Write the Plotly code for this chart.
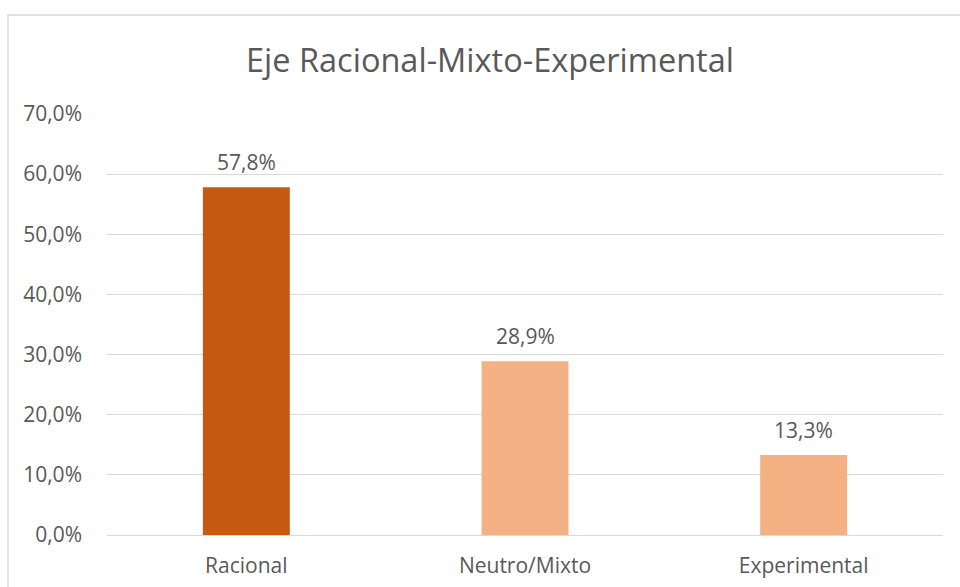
import plotly.graph_objects as go

categories = ["Racional", "Neutro/Mixto", "Experimental"]
values = [0.578, 0.289, 0.133]
bar_colors = ["#C55A11", "#F4B183", "#F4B183"]
tick_vals = [0, 0.1, 0.2, 0.3, 0.4, 0.5, 0.6, 0.7]
tick_text = ["0,0%", "10,0%", "20,0%", "30,0%", "40,0%", "50,0%", "60,0%", "70,0%"]
value_labels = ["57,8%", "28,9%", "13,3%"]
title_text = "Eje Racional-Mixto-Experimental"

FONT = "Open Sans"
GREY = "#595959"

W, H = 960, 587
L, R, T, B = 107, 17, 114, 52
pw, ph = W - L - R, H - T - B

fig = go.Figure()
fig.add_trace(go.Bar(
    x=categories, y=values, marker=dict(color=bar_colors, line=dict(width=0)),
    hoverinfo="skip", showlegend=False,
))

for c, v, t in zip(categories, values, value_labels):
    fig.add_annotation(x=c, y=v, text=t, showarrow=False, yanchor="middle",
                       yshift=25, font=dict(family=FONT, size=21, color=GREY))

# outer chart border (cropped on right and bottom)
def px_x(x):
    return (x - L) / pw

def px_y(y):
    return (H - B - y) / ph

fig.add_shape(type="rect", xref="paper", yref="paper",
              x0=px_x(8), x1=px_x(975), y0=px_y(600), y1=px_y(15),
              line=dict(color="#D9D9D9", width=1.5), fillcolor="rgba(0,0,0,0)", layer="below")

fig.update_layout(
    width=W, height=H,
    margin=dict(l=L, r=R, t=T, b=B),
    paper_bgcolor="white", plot_bgcolor="white",
    bargap=0.688,
    title=dict(text=title_text, x=490 / W, xanchor="center", y=1 - 61 / H, yanchor="middle",
               font=dict(family=FONT, size=32.5, color=GREY)),
    xaxis=dict(showgrid=False, showline=False, zeroline=False, ticks="", automargin=False,
               tickfont=dict(family=FONT, size=21, color=GREY), ticklabelstandoff=16),
    yaxis=dict(range=[0, 0.7], tickvals=tick_vals, ticktext=tick_text, automargin=False,
               showgrid=True, gridcolor="#D9D9D9", gridwidth=1.3,
               zeroline=True, zerolinecolor="#D9D9D9", zerolinewidth=1.3,
               showline=False, ticks="", ticklabelstandoff=24,
               tickfont=dict(family=FONT, size=21, color=GREY)),
    font=dict(family=FONT, color=GREY),
)

fig.write_html("out.html")
